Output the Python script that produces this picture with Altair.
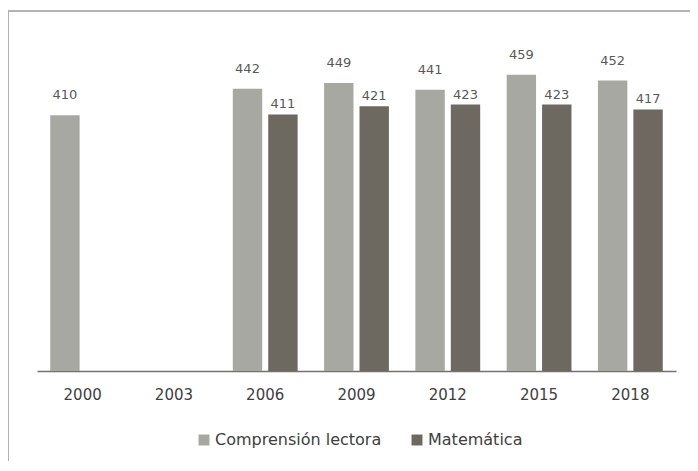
import altair as alt
import pandas as pd

years = ["2000", "2003", "2006", "2009", "2012", "2015", "2018"]
series = ["Comprensión lectora", "Matemática"]
lectora = [410, None, 442, 449, 441, 459, 452]
matematica = [None, None, 411, 421, 423, 423, 417]
colors = ["#a8a8a3", "#6d6961"]

rows = []
for y, a, b in zip(years, lectora, matematica):
    if a is not None:
        rows.append({"year": y, "serie": series[0], "value": a})
    if b is not None:
        rows.append({"year": y, "serie": series[1], "value": b})
df = pd.DataFrame(rows)

FONT = "DejaVu Sans"

x = alt.X("year:N", scale=alt.Scale(domain=years, paddingInner=0.29, paddingOuter=0.145),
          axis=alt.Axis(title=None, ticks=False, labelAngle=0, labelFontSize=15,
                        labelColor="#404040", labelFont=FONT, labelPadding=16,
                        domainColor="#767171", domainWidth=1.5))
xo = alt.XOffset("serie:N", sort=series, scale=alt.Scale(domain=series, paddingInner=0.17))
y = alt.Y("value:Q", scale=alt.Scale(domain=[100, 500], zero=False, nice=False, clamp=True),
          axis=None)
color = alt.Color("serie:N", sort=series,
                  scale=alt.Scale(domain=series, range=colors),
                  legend=alt.Legend(title=None, orient="none", direction="horizontal",
                                    legendX=159, legendY=391, symbolType="square",
                                    symbolSize=120, symbolStrokeWidth=0,
                                    labelFontSize=16, labelFont=FONT, labelColor="#404040",
                                    labelLimit=400, columnPadding=27, labelOffset=3))

base = alt.Chart(df)
bars = base.mark_bar().encode(x=x, xOffset=xo, y=y, y2=alt.datum(100), color=color)
lab1 = base.transform_filter(alt.datum.serie == series[0]).mark_text(
    dy=-20, baseline="middle", fontSize=13, font=FONT, color="#595959"
).encode(x=x, xOffset=xo, y=y, text="value:Q")
lab2 = base.transform_filter(alt.datum.serie == series[1]).mark_text(
    dy=-10, baseline="middle", fontSize=13, font=FONT, color="#595959"
).encode(x=x, xOffset=xo, y=y, text="value:Q")

frame = alt.Chart(pd.DataFrame({"a": [0]})).mark_rect(
    fill=None, stroke="#b3b3b3", strokeWidth=2
).encode(x=alt.value(-29), x2=alt.value(700), y=alt.value(-30), y2=alt.value(500))

chart = alt.layer(frame, bars, lab1, lab2).properties(
    width=639, height=330,
    autosize=alt.AutoSizeParams(type="none"),
    padding={"left": 29, "top": 33, "right": 14, "bottom": 90},
).configure_view(stroke=None)

chart.save("out.html", embed_options={"renderer": "svg", "actions": False})
